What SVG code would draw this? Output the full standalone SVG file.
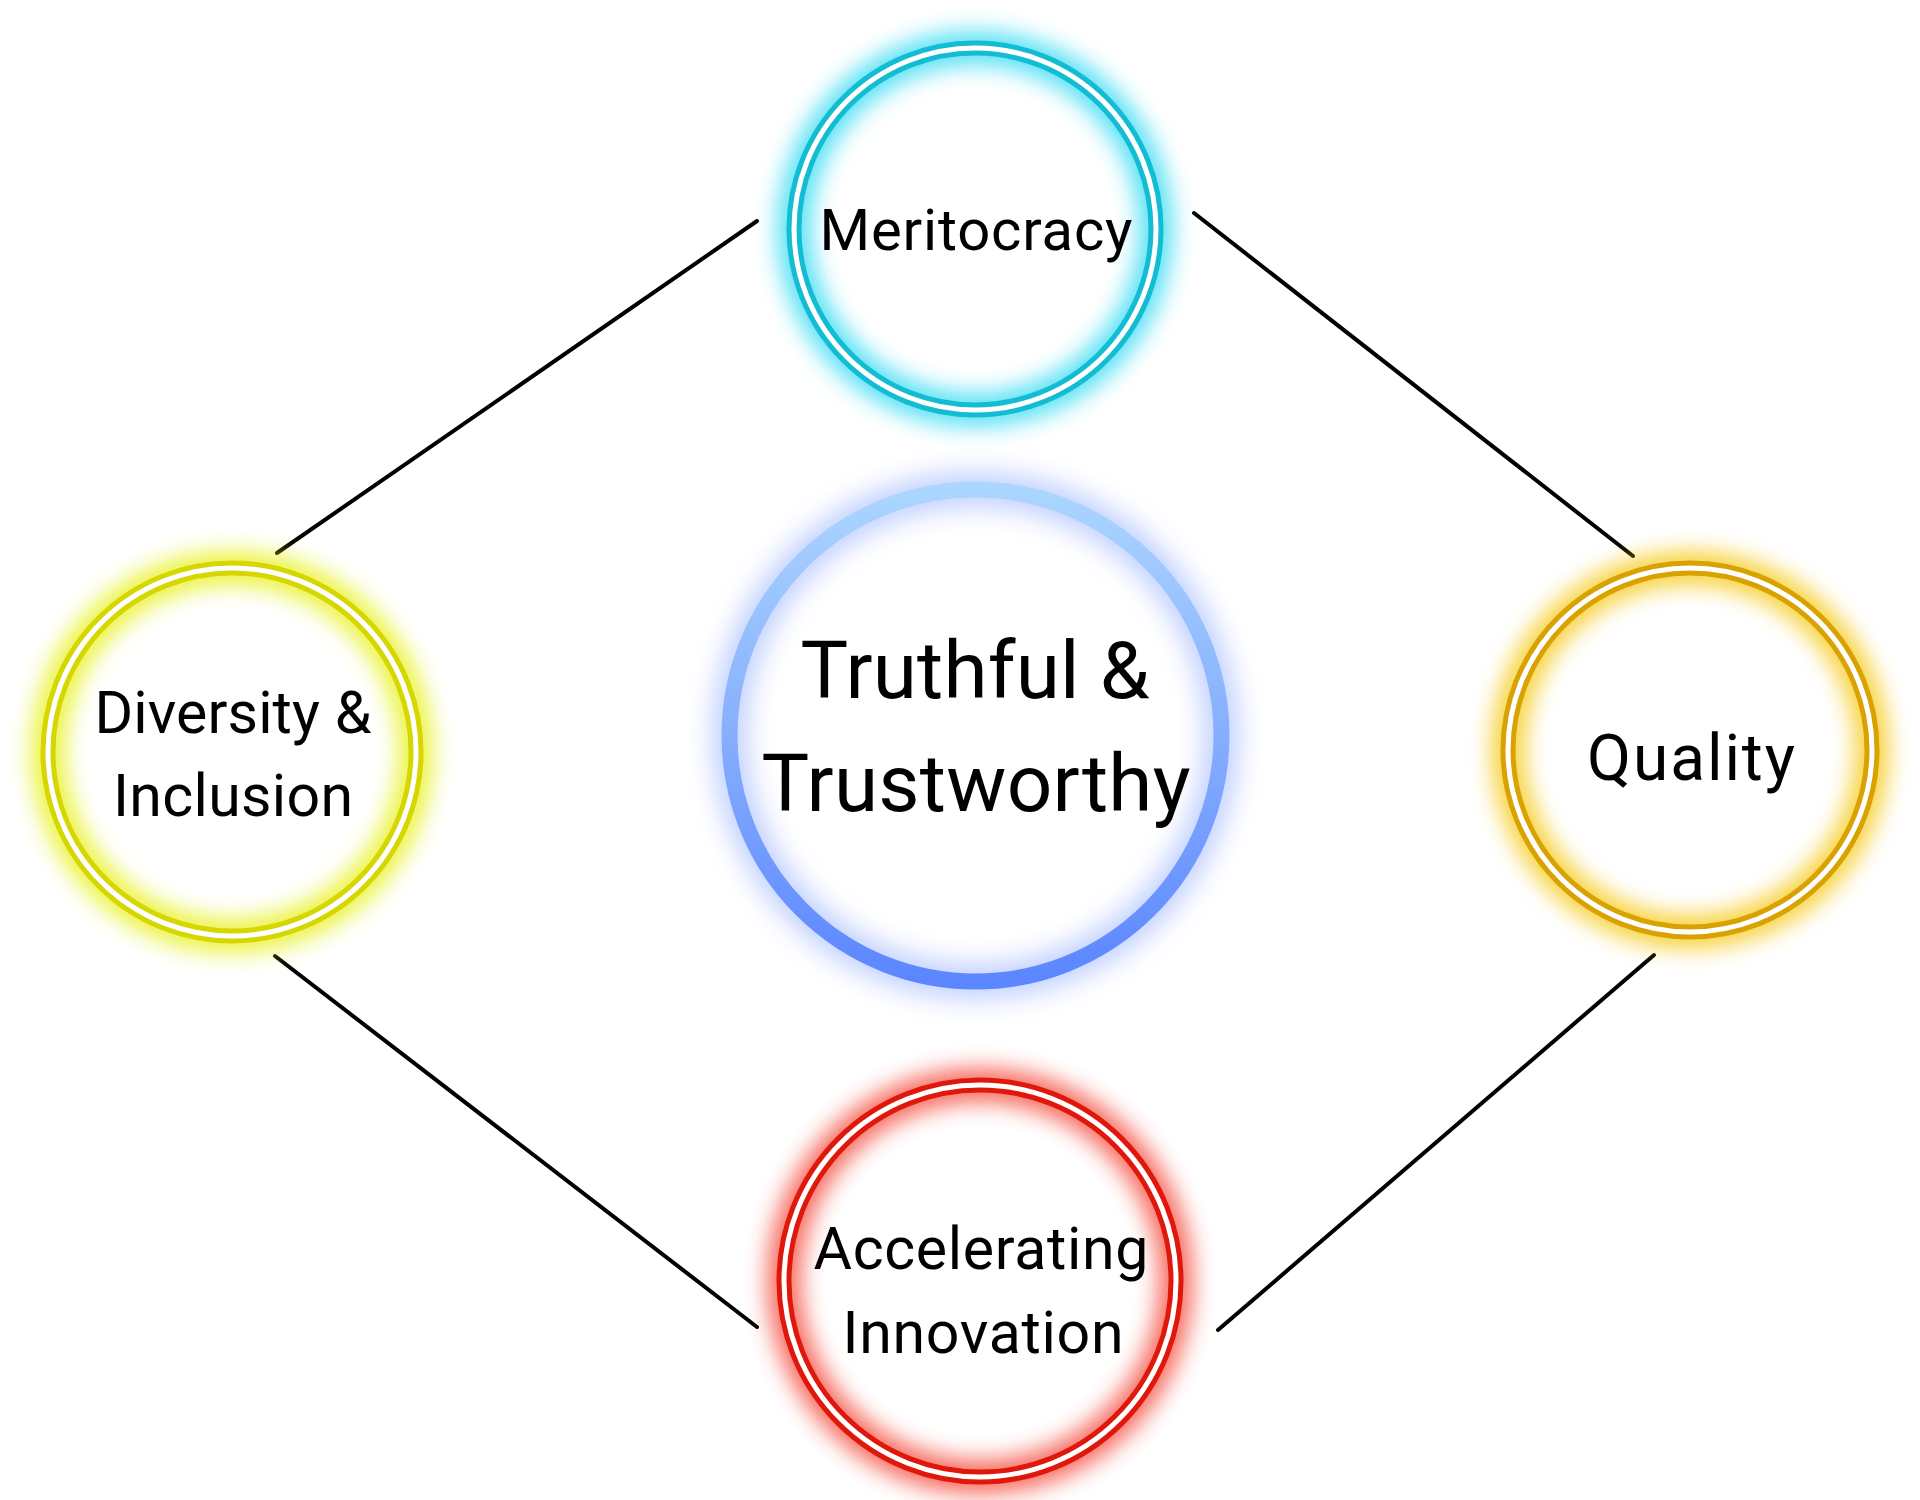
<svg xmlns="http://www.w3.org/2000/svg" width="1920" height="1500" viewBox="0 0 1920 1500">
<defs>
  <filter id="glow" x="-30%" y="-30%" width="160%" height="160%">
    <feGaussianBlur stdDeviation="11"/>
  </filter>
  <filter id="glowBig" x="-30%" y="-30%" width="160%" height="160%">
    <feGaussianBlur stdDeviation="14"/>
  </filter>
  <linearGradient id="blueGrad" x1="0" y1="0" x2="0" y2="1">
    <stop offset="0" stop-color="#ABD6FF"/>
    <stop offset="0.5" stop-color="#86AEFD"/>
    <stop offset="1" stop-color="#5B86FF"/>
  </linearGradient>
  <style>
    .lbl { font-family: Roboto, "Liberation Sans", sans-serif; fill: #000; text-anchor: middle; }
    .conn { stroke: #000; stroke-width: 4; stroke-linecap: round; fill: none; }
    .core { fill: none; stroke: #fff; stroke-width: 5; }
    .ring { fill: none; stroke-width: 15; }
    .halo { fill: none; stroke-width: 34; opacity: 0.75; filter: url(#glow); }
  </style>
</defs>
<rect width="1920" height="1500" fill="#fff"/>

<g id="connectors">
  <line class="conn" x1="757" y1="221" x2="277" y2="553"/>
  <line class="conn" x1="1194" y1="213" x2="1633" y2="556"/>
  <line class="conn" x1="275" y1="956" x2="757" y2="1327"/>
  <line class="conn" x1="1654" y1="955" x2="1218" y2="1330"/>
</g>

<g id="node-meritocracy">
  <circle class="halo" cx="975" cy="229" r="181" stroke="#22D8F2"/>
  <circle class="ring" cx="975" cy="229" r="181" stroke="#12BDD3"/>
  <circle class="core" cx="975" cy="229" r="181"/>
  <text class="lbl" x="976" y="250" font-size="58" textLength="313" lengthAdjust="spacing">Meritocracy</text>
</g>

<g id="node-center">
  <circle cx="975.5" cy="735.5" r="246" fill="none" stroke="#7C9CFF" stroke-width="30" opacity="0.55" filter="url(#glowBig)"/>
  <circle cx="975.5" cy="735.5" r="246" fill="none" stroke="url(#blueGrad)" stroke-width="16"/>
  <text class="lbl" x="975" y="698" font-size="80" textLength="349" lengthAdjust="spacing">Truthful &amp;</text>
  <text class="lbl" x="976" y="811" font-size="80" textLength="429" lengthAdjust="spacing">Trustworthy</text>
</g>

<g id="node-diversity">
  <circle class="halo" cx="232" cy="752" r="184" stroke="#E4F000"/>
  <circle class="ring" cx="232" cy="752" r="184" stroke="#D6D600"/>
  <circle class="core" cx="232" cy="752" r="184"/>
  <text class="lbl" x="233" y="733" font-size="59" textLength="277" lengthAdjust="spacing">Diversity &amp;</text>
  <text class="lbl" x="233" y="816" font-size="59" textLength="240" lengthAdjust="spacing">Inclusion</text>
</g>

<g id="node-quality">
  <circle class="halo" cx="1690" cy="750" r="182" stroke="#F5C400"/>
  <circle class="ring" cx="1690" cy="750" r="182" stroke="#D9A200"/>
  <circle class="core" cx="1690" cy="750" r="182"/>
  <text class="lbl" x="1691" y="780" font-size="64" textLength="208" lengthAdjust="spacing">Quality</text>
</g>

<g id="node-innovation">
  <circle class="halo" cx="980" cy="1281" r="196" stroke="#F43A2A"/>
  <circle class="ring" cx="980" cy="1281" r="196" stroke="#E0180C"/>
  <circle class="core" cx="980" cy="1281" r="196"/>
  <text class="lbl" x="981" y="1269" font-size="59" textLength="335" lengthAdjust="spacing">Accelerating</text>
  <text class="lbl" x="983" y="1353" font-size="59" textLength="281" lengthAdjust="spacing">Innovation</text>
</g>
</svg>
